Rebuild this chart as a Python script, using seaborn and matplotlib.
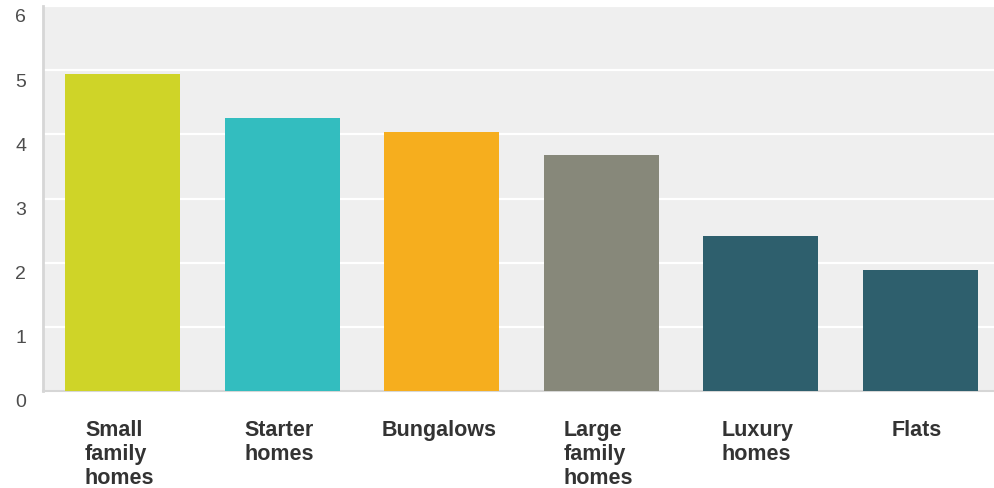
import matplotlib
matplotlib.use("Agg")
import matplotlib.pyplot as plt
import matplotlib.transforms as mtransforms
import seaborn as sns
import pandas as pd

# data
categories = ["Small\nfamily\nhomes", "Starter\nhomes", "Bungalows",
              "Large\nfamily\nhomes", "Luxury\nhomes", "Flats"]
values = [4.94, 4.25, 4.04, 3.68, 2.42, 1.88]
bar_colors = ["#cfd428", "#33bdbf", "#f6ae1e", "#87887a", "#2e5f6d", "#2e5f6d"]
y_ticks = [0, 1, 2, 3, 4, 5, 6]

sns.set_theme(style="white")
plt.rcParams["font.family"] = ["Liberation Sans", "DejaVu Sans"]

df = pd.DataFrame({"category": categories, "value": values})

fig = plt.figure(figsize=(9.94, 4.89), dpi=100)
# plot area runs a little past the right edge of the picture, as in the reference
ax = fig.add_axes([43 / 994, 97 / 489, 957 / 994, 385 / 489])
ax.set_facecolor("#efefef")

sns.barplot(data=df, x="category", y="value", hue="category",
            palette=bar_colors, width=0.72, legend=False, ax=ax,
            saturation=1, edgecolor="none", linewidth=0, zorder=3)

ax.set_xlim(-0.5, len(categories) - 0.5)
ax.set_ylim(0, 6)
ax.set_yticks(y_ticks)
ax.grid(axis="y", color="white", linewidth=1.6, zorder=0)
ax.set_axisbelow(True)
ax.set_xlabel("")
ax.set_ylabel("")

for side in ["top", "right"]:
    ax.spines[side].set_visible(False)
ax.spines["left"].set_color("#d6d6d6")
ax.spines["left"].set_linewidth(2)
ax.spines["bottom"].set_color("#d6d6d6")
ax.spines["bottom"].set_linewidth(1.5)

ax.tick_params(axis="y", length=0, pad=12, labelsize=14, labelcolor="#4d4d4d")
ax.tick_params(axis="x", length=0, pad=20)

ax.set_xticks(range(len(categories)))
ax.set_xticklabels(categories, fontsize=15.5, fontweight="bold",
                   color="#333333", ha="center", va="top",
                   multialignment="left", linespacing=1.2)

shift_x = mtransforms.ScaledTranslation(-3 / 100, 0, fig.dpi_scale_trans)
for lbl in ax.get_xticklabels():
    lbl.set_transform(lbl.get_transform() + shift_x)

shift_y = mtransforms.ScaledTranslation(0, -9 / 100, fig.dpi_scale_trans)
for lbl in ax.get_yticklabels():
    lbl.set_transform(lbl.get_transform() + shift_y)

fig.savefig("out.png", dpi=100, facecolor="white")
